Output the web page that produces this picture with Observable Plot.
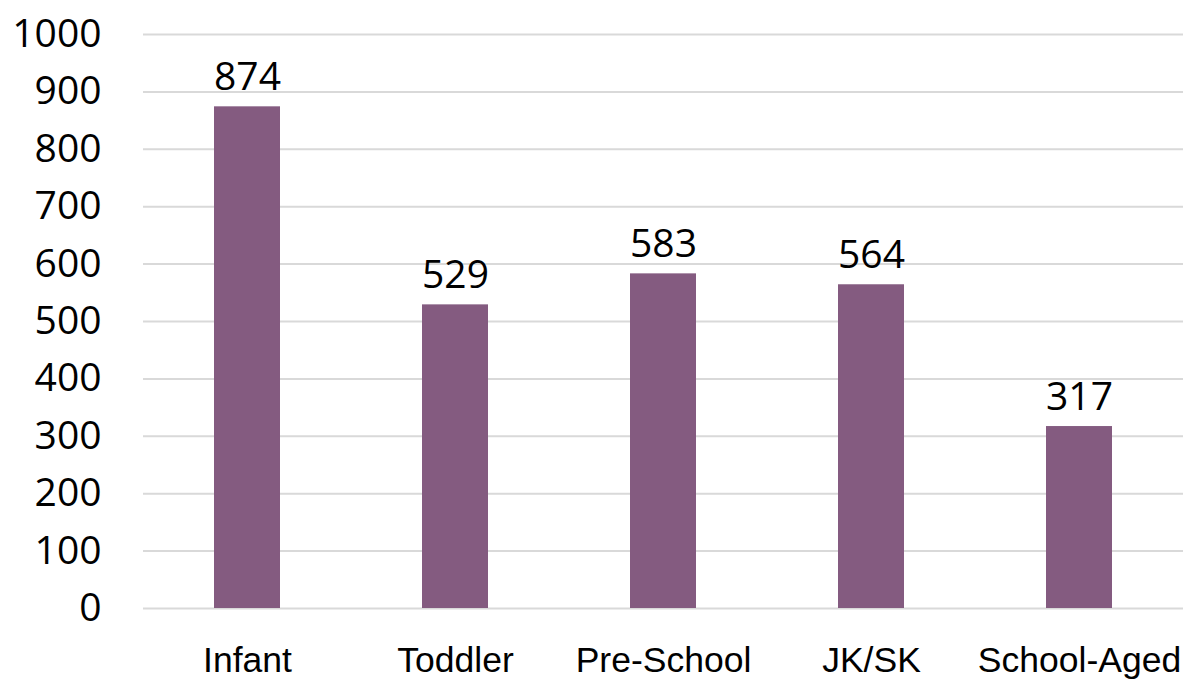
<!DOCTYPE html>
<html>
<head>
<meta charset="utf-8">
<script src="https://cdn.jsdelivr.net/npm/d3@7"></script>
<script src="https://cdn.jsdelivr.net/npm/@observablehq/plot@0.6"></script>
<style>
  html, body { margin: 0; padding: 0; background: #fff; }
  #chart svg { display: block; }
</style>
</head>
<body>
<div id="chart"></div>
<script>
const categories = ["Infant", "Toddler", "Pre-School", "JK/SK", "School-Aged"];
const values = [874, 529, 583, 564, 317];
const yTicks = [0, 100, 200, 300, 400, 500, 600, 700, 800, 900, 1000];

const data = categories.map((c, i) => ({category: c, value: values[i]}));

const chart = Plot.plot({
  width: 1183,
  height: 680,
  marginTop: 34,
  marginBottom: 72,
  marginLeft: 143,
  marginRight: 0,
  style: {background: "#fff"},
  x: {domain: categories, paddingInner: 0.683, paddingOuter: 0.3415, label: null},
  y: {domain: [0, 1000], label: null},
  marks: [
    Plot.gridY(yTicks, {stroke: "#d9d9d9", strokeOpacity: 1, strokeWidth: 2}),
    Plot.barY(data, {x: "category", y: "value", fill: "#845B80"}),
    Plot.text(data, {x: "category", y: "value", text: d => String(d.value), lineAnchor: "bottom", dy: -17,
      fontSize: 39, fill: "#000", fontFamily: "Open Sans"}),
    Plot.axisY({ticks: yTicks, tickSize: 0, tickPadding: 42, fontSize: 39, fontFamily: "Open Sans", fill: "#000", tickFormat: d => String(d)}),
    Plot.axisX({tickSize: 0, tickPadding: 38, fontSize: 35.5, fontFamily: "Liberation Sans", fill: "#000"})
  ]
});
document.getElementById("chart").appendChild(chart);
</script>
</body>
</html>
